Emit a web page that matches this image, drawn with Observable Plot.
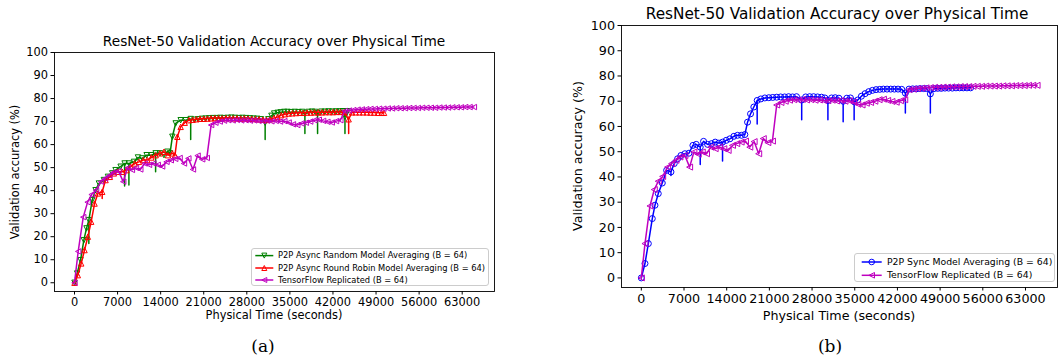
<!DOCTYPE html>
<html><head><meta charset="utf-8">
<script src="https://cdn.jsdelivr.net/npm/d3@7"></script>
<script src="https://cdn.jsdelivr.net/npm/@observablehq/plot@0.6"></script>
<style>
body{margin:0;background:#fff;}
#root{position:relative;width:1059px;height:364px;overflow:hidden;font-family:"DejaVu Sans",sans-serif;color:#000;background:#fff;}
.abs{position:absolute;white-space:nowrap;transform:translate(-50%,-50%);line-height:1;}
.rot{transform:translate(-50%,-50%) rotate(-90deg);}
.panel{position:absolute;top:0;}
.legend{position:absolute;background:rgba(255,255,255,0.8);border:1px solid #cccccc;border-radius:3px;box-sizing:border-box;}
.legend span{position:absolute;white-space:nowrap;line-height:1;transform:translateY(-50%);color:#000;}
.legend svg{position:absolute;left:0;top:0;overflow:visible;}
.cap{font-family:"DejaVu Serif","Liberation Serif",serif;}
</style></head>
<body><div id="root"></div>
<script>
// ---------------- data ----------------
const xTicks = [0, 7000, 14000, 21000, 28000, 35000, 42000, 49000, 56000, 63000];
const yTicks = [0, 10, 20, 30, 40, 50, 60, 70, 80, 90, 100];
const chartTitle = "ResNet-50 Validation Accuracy over Physical Time";
const xLabel = "Physical Time (seconds)";
const yLabel = "Validation accuracy (%)";

// [seconds, accuracy %]
const p2pAsyncRandom = [[0,0],[430,4],[980,9.8],[1520,18.5],[1950,23.6],[2330,27.2],[2880,35.9],[3420,40.2],[3960,43.1],[4770,44.6],[5430,46],[6130,47.5],[6670,48.9],[7490,50.4],[8140,51.8],[8840,51.8],[9660,52.5],[10310,54.4],[11010,54],[11720,55.4],[12480,55.4],[13180,56.2],[13890,56.2],[14540,55.4],[15080,56.9],[15520,56.2],[15900,63.4],[16440,69.2],[17250,70.6],[18070,70.6],[18880,71.1],[19500,70.8],[20100,71],[20700,71.2],[21300,71.3],[21900,71.4],[22500,71.5],[23100,71.5],[23700,71.6],[24300,71.5],[24900,71.6],[25500,71.7],[26100,71.6],[26700,71.5],[27300,71.6],[27900,71.5],[28500,71.4],[29100,71.3],[29700,71.2],[30300,71],[30980,69.5],[31500,71],[32000,72.5],[32450,73.5],[33000,73.8],[33500,74],[34080,74.2],[34600,74.2],[35200,74.1],[35800,74.2],[36400,74.1],[37000,74.2],[37440,73.5],[38000,74.2],[38600,74.3],[39100,74.2],[39500,73.6],[40100,74.3],[40700,74.3],[41300,74.4],[41900,74.3],[42500,74.4],[43100,74.4],[43600,74.5],[43950,72],[44400,74.5]];
const p2pAsyncRandomDips = [[2330,17],[8140,42],[8840,42.4],[13180,48.2],[18880,62.2],[30980,62.2],[37440,64.8],[39500,64.8],[43950,64.8]];

const p2pAsyncRoundRobin = [[0,0],[540,3.3],[1090,8.4],[1630,14.2],[2170,20],[2710,26.5],[3260,34.4],[3800,38.8],[4500,39.5],[5050,44.6],[5750,46],[6400,47.5],[7050,48.2],[7760,48.2],[8460,48.9],[9120,50.4],[9770,51.8],[10470,52.5],[11180,53.3],[11830,53.3],[12480,54.4],[13190,55.4],[13890,56.2],[14540,56.9],[15190,55.4],[15900,56.2],[16330,55.4],[16710,63.4],[17250,67.7],[17910,69.5],[18610,70.6],[19200,70.8],[19800,71],[20400,71.2],[21000,71.2],[21600,71.3],[22200,71.4],[22800,71.5],[23400,71.5],[24000,71.4],[24600,71.5],[25200,71.5],[25800,71.4],[26400,71.4],[27000,71.3],[27600,71.4],[28200,71.3],[28800,71.2],[29400,71.1],[30000,71],[30600,70.8],[31200,70.7],[31800,71],[32400,71.5],[33000,72],[33600,72.8],[34200,73.2],[34800,73.5],[35400,73.6],[36000,73.7],[36600,73.8],[37200,73.8],[37800,73.9],[38400,73.9],[39000,74],[39600,74],[40200,74],[40800,74.1],[41400,74.1],[42000,74.1],[42600,74.2],[43200,74.2],[43800,74.1],[44550,71],[45100,74],[45700,74],[46300,74],[46900,74],[47500,74],[48100,73.9],[48700,73.9],[49300,73.8],[49900,73.8],[50300,73.8]];
const p2pAsyncRoundRobinDips = [[4500,36.6],[44550,64.8]];

const tfReplicated = [[0,0],[600,13.6],[1420,28.5],[2130,35],[2780,38.3],[3500,40.2],[4310,43.9],[4970,45.3],[5680,46.6],[6330,47.9],[7150,48.5],[7920,43.9],[8620,49.9],[9330,49],[9990,49.9],[10690,49.2],[11400,51.8],[12110,51.2],[12830,51.8],[13530,51.2],[14240,50.5],[14950,52.5],[15650,53.2],[16370,53.8],[17080,54.2],[17790,51.8],[18500,54],[19250,49.2],[20000,55.2],[20750,53.6],[21500,54.2],[22200,68.5],[22900,69.5],[23600,70],[24300,70.4],[25000,70.6],[25700,70.5],[26400,70.7],[27100,70.5],[27800,70.6],[28500,70.4],[29200,70.5],[29900,70.3],[30600,70.2],[31300,70.4],[32000,70.1],[32700,70.3],[33400,70],[34100,70.2],[34800,69.6],[35500,68.8],[36200,68.5],[36900,69.2],[37600,69.5],[38300,70],[39000,70.6],[39700,70.8],[40400,70.3],[41100,69.9],[41800,69.6],[42500,70.2],[43200,70.6],[43900,74.6],[44600,74.8],[45300,75],[46000,75.2],[46700,75.3],[47400,75.4],[48100,75.5],[48800,75.5],[49500,75.6],[50200,75.6],[50900,75.7],[51600,75.7],[52300,75.8],[53000,75.8],[53700,75.8],[54400,75.9],[55100,75.9],[55800,75.9],[56500,76],[57200,76],[57900,76],[58600,76],[59300,76.1],[60000,76.1],[60700,76.1],[61400,76.2],[62100,76.2],[62800,76.2],[63500,76.3],[64200,76.3],[64900,76.3]];
const tfReplicatedDips = [];

const p2pSync = [[0,0],[600,5.7],[1150,13.6],[1800,23.5],[2240,28.8],[2780,33.4],[3440,37.6],[4150,42.6],[4860,42],[5400,45.3],[5950,47.2],[6500,48.5],[7150,49.2],[7810,49.4],[8460,52.5],[9010,52.9],[9660,51.8],[10210,54.1],[10870,52.9],[11520,53.2],[12120,53.8],[12720,53.4],[13320,53.8],[13920,54.5],[14520,55.1],[15180,56.1],[15780,56.5],[16430,56.5],[16980,56.8],[17420,61.7],[17910,65],[18450,67.7],[19000,70.3],[19600,70.9],[20260,71.3],[20910,71.4],[21550,71.5],[22200,71.6],[22850,71.7],[23500,71.7],[24150,71.8],[24800,71.7],[25450,71.8],[26300,70.5],[26950,71.7],[27600,71.8],[28250,71.8],[28900,71.7],[29550,71.6],[30100,71.3],[30600,70.3],[31200,71.3],[31800,71.4],[32400,71.2],[33100,70],[33700,71.2],[34300,71.3],[34900,69.8],[35500,70.5],[36100,72],[36700,73],[37300,73.8],[37900,74.3],[38500,74.6],[39100,74.7],[39700,74.8],[40300,74.8],[40900,74.8],[41500,74.8],[42100,74.8],[42700,74.7],[43300,73.2],[43900,74.8],[44500,74.9],[45100,74.9],[45700,75],[46300,75],[46800,75],[47400,72.9],[48000,75],[48600,75.1],[49200,75.1],[49800,75.2],[50400,75.2],[51000,75.2],[51600,75.3],[52200,75.3],[52800,75.3],[53400,75.3],[54000,75.3]];
const p2pSyncDips = [[4860,40.6],[9660,44.9],[13320,46.3],[19000,61],[26300,62.7],[30600,62.7],[33100,61.9],[34900,62.7],[43300,65.3],[47400,65.3]];

const labels = {
  random: "P2P Async Random Model Averaging (B = 64)",
  robin: "P2P Async Round Robin Model Averaging (B = 64)",
  tf: "TensorFlow Replicated (B = 64)",
  sync: "P2P Sync Model Averaging (B = 64)"
};
const captions = ["(a)", "(b)"];

// ---------------- symbols ----------------
const rad = s => Math.sqrt(s / Math.PI);
const triDown = {draw(c, s) { const r = rad(s); c.moveTo(0, r); c.lineTo(-r, -r); c.lineTo(r, -r); c.closePath(); }};
const triUp = {draw(c, s) { const r = rad(s); c.moveTo(0, -r); c.lineTo(-r, r); c.lineTo(r, r); c.closePath(); }};
const triLeft = {draw(c, s) { const r = rad(s); c.moveTo(-r, 0); c.lineTo(r, -r); c.lineTo(r, r); c.closePath(); }};
const circ = {draw(c, s) { const r = rad(s); c.moveTo(r, 0); c.arc(0, 0, r, 0, 2 * Math.PI); c.closePath(); }};
function symPath(sym, r) { const p = d3.path(); sym.draw(p, Math.PI * r * r); return p.toString(); }

const C = {green: "#008000", red: "#ff0000", magenta: "#bf00bf", blue: "#0000ff"};

function lineRows(points, dips) {
  const dipMap = new Map(dips.map(d => [d[0], d[1]]));
  const out = [];
  for (const [t, v] of points) {
    out.push({t, v});
    if (dipMap.has(t)) { out.push({t, v: dipMap.get(t)}); out.push({t, v}); }
  }
  return out;
}

function makePanel(cfg) {
  const marks = [];
  for (const s of cfg.series) {
    marks.push(Plot.line(lineRows(s.points, s.dips), {x: "t", y: "v", stroke: s.color, strokeWidth: 1.5}));
    marks.push(Plot.dot(s.points.map(([t, v]) => ({t, v})), {x: "t", y: "v", symbol: s.symbol, r: cfg.r, stroke: s.color, fill: "none", strokeWidth: 1}));
  }
  marks.push(Plot.frame({stroke: "#000", strokeWidth: 0.9}));
  marks.push(Plot.axisX({ticks: xTicks, tickFormat: d3.format("d"), tickSize: 3.5, tickPadding: 3, label: null}));
  marks.push(Plot.axisY({ticks: yTicks, tickFormat: d3.format("d"), tickSize: 3.5, tickPadding: 3, label: null}));
  return Plot.plot({
    width: cfg.width, height: 364,
    marginLeft: cfg.ml, marginRight: cfg.mr, marginTop: cfg.mt, marginBottom: cfg.mb,
    x: {domain: [-3250, 68250]},
    y: {domain: [-3.8, 100]},
    style: {fontFamily: "DejaVu Sans", fontSize: cfg.fs + "px", color: "#000", background: "transparent"},
    marks
  });
}

const root = document.getElementById("root");
function addText(txt, x, y, size, cls) {
  const d = document.createElement("div");
  d.className = "abs " + (cls || "");
  d.style.left = x + "px"; d.style.top = y + "px"; d.style.fontSize = size + "px";
  d.textContent = txt; root.appendChild(d);
}
function addLegend(b) {
  const box = document.createElement("div");
  box.className = "legend";
  Object.assign(box.style, {left: b.left + "px", top: b.top + "px", width: b.width + "px", height: b.height + "px"});
  const ns = "http://www.w3.org/2000/svg";
  const svg = document.createElementNS(ns, "svg");
  svg.setAttribute("width", b.width); svg.setAttribute("height", b.height);
  for (const row of b.rows) {
    const ln = document.createElementNS(ns, "line");
    ln.setAttribute("x1", b.x0); ln.setAttribute("x2", b.x1); ln.setAttribute("y1", row.y); ln.setAttribute("y2", row.y);
    ln.setAttribute("stroke", row.color); ln.setAttribute("stroke-width", 1.5);
    svg.appendChild(ln);
    const p = document.createElementNS(ns, "path");
    p.setAttribute("d", symPath(row.symbol, b.r));
    p.setAttribute("transform", `translate(${(b.x0 + b.x1) / 2},${row.y})`);
    p.setAttribute("fill", "none"); p.setAttribute("stroke", row.color); p.setAttribute("stroke-width", 1);
    svg.appendChild(p);
    const sp = document.createElement("span");
    sp.textContent = row.label; sp.style.left = b.tx + "px"; sp.style.top = row.y + "px"; sp.style.fontSize = b.fs + "px";
    box.appendChild(sp);
  }
  box.appendChild(svg);
  root.appendChild(box);
}

// left panel
const left = document.createElement("div"); left.className = "panel"; left.style.left = "0px";
left.appendChild(makePanel({
  width: 530, ml: 54, mr: 36, mt: 52, mb: 73, fs: 11.4, r: 2.7,
  series: [
    {points: p2pAsyncRandom, dips: p2pAsyncRandomDips, color: C.green, symbol: triDown},
    {points: p2pAsyncRoundRobin, dips: p2pAsyncRoundRobinDips, color: C.red, symbol: triUp},
    {points: tfReplicated, dips: tfReplicatedDips, color: C.magenta, symbol: triLeft}
  ]
}));
root.appendChild(left);

// right panel
const right = document.createElement("div"); right.className = "panel"; right.style.left = "530px";
right.appendChild(makePanel({
  width: 529, ml: 91, mr: 2, mt: 25, mb: 77, fs: 12.7, r: 3,
  series: [
    {points: p2pSync, dips: p2pSyncDips, color: C.blue, symbol: circ},
    {points: tfReplicated, dips: tfReplicatedDips, color: C.magenta, symbol: triLeft}
  ]
}));
root.appendChild(right);

// texts
addText(chartTitle, 274, 42, 13.7);
addText(chartTitle, 837, 15, 15.3);
addText(xLabel, 274, 316, 11.4);
addText(xLabel, 839, 316, 12.7);
addText(yLabel, 16, 171.5, 11.4, "rot");
addText(yLabel, 578, 156, 12.7, "rot");
addText(captions[0], 263, 346, 17, "cap");
addText(captions[1], 830, 346, 17, "cap");

addLegend({left: 250.7, top: 247.7, width: 238.3, height: 38.3, x0: 3.3, x1: 21.3, tx: 26.3, fs: 8.3, r: 2.5,
  rows: [
    {label: labels.random, color: C.green, symbol: triDown, y: 6.6},
    {label: labels.robin, color: C.red, symbol: triUp, y: 19},
    {label: labels.tf, color: C.magenta, symbol: triLeft, y: 31}
  ]});
addLegend({left: 854, top: 252.7, width: 201, height: 29, x0: 6.7, x1: 26.7, tx: 32, fs: 9.3, r: 2.8,
  rows: [
    {label: labels.sync, color: C.blue, symbol: circ, y: 8},
    {label: labels.tf, color: C.magenta, symbol: triLeft, y: 21.3}
  ]});
</script>
</body></html>
